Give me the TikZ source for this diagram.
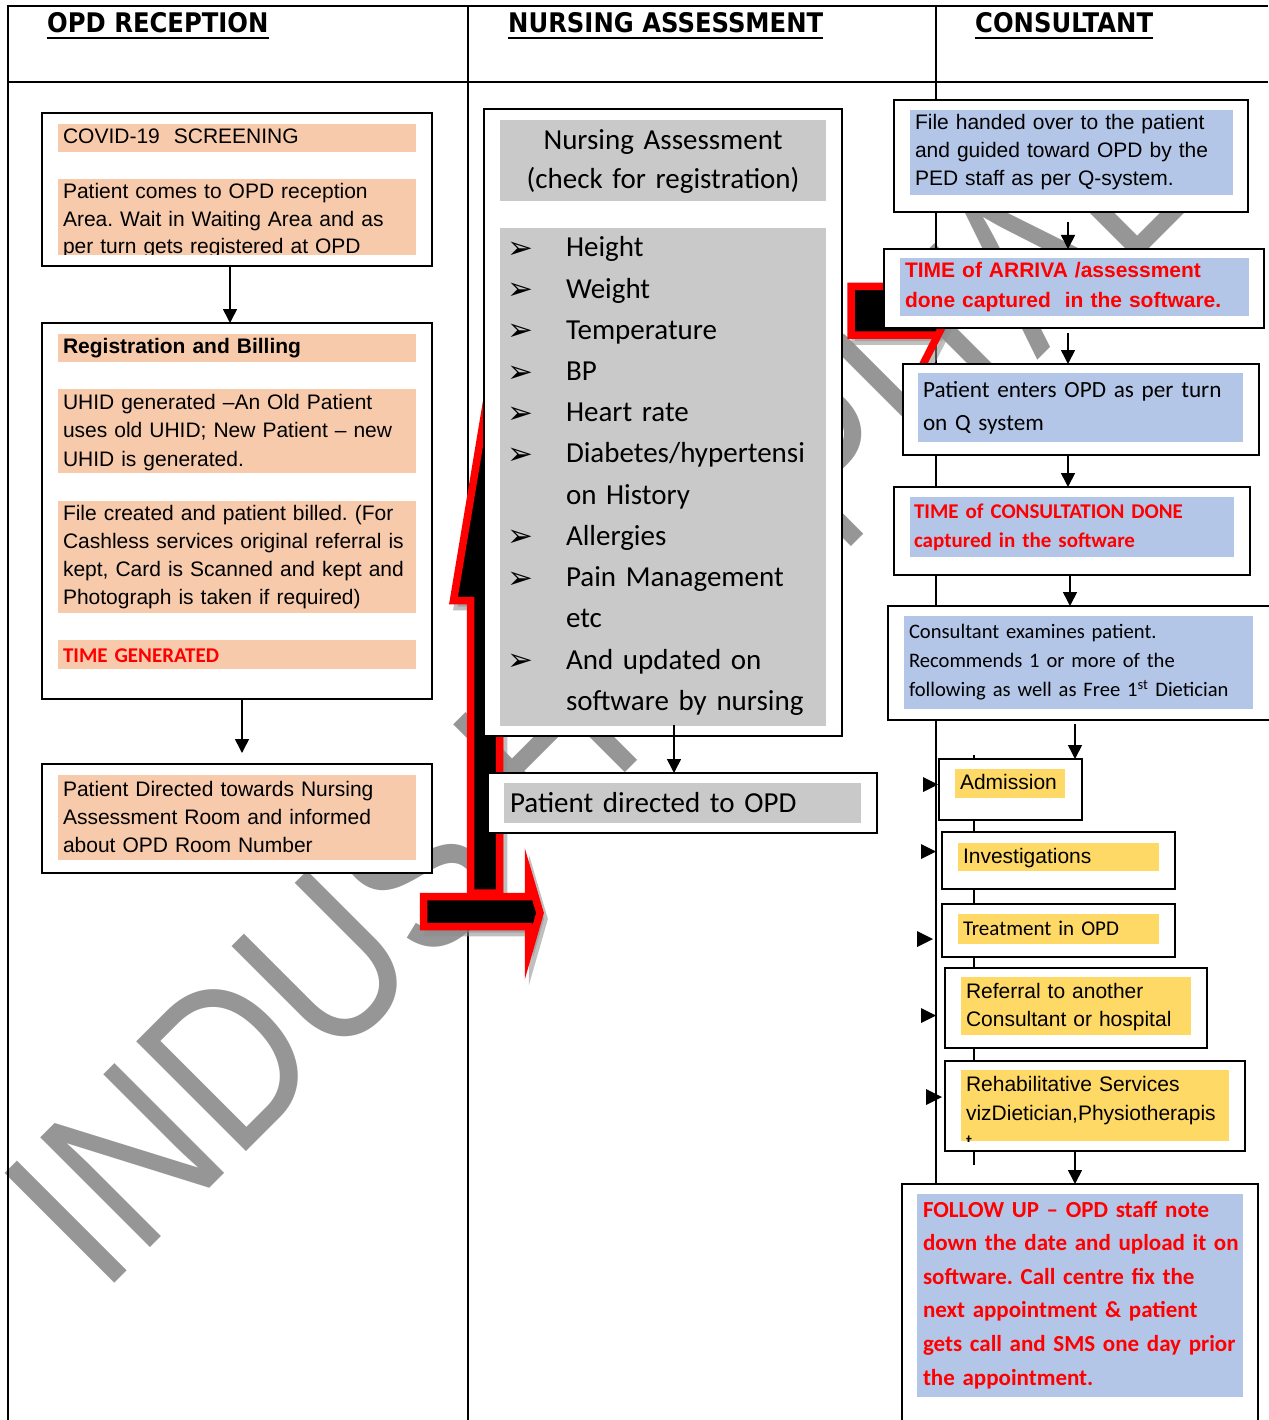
\documentclass[tikz,border=0pt]{standalone}
\usepackage{fontspec}
\setmainfont{Liberation Sans}
\newfontfamily\calfont{Carlito}
\newfontfamily\headfont[FakeStretch=0.9]{DejaVu Sans}
\newfontfamily\symfont{DejaVu Sans}
\usetikzlibrary{arrows.meta,fit}

\definecolor{peach}{HTML}{F7CAAC}
\definecolor{greyband}{HTML}{C9C9C9}
\definecolor{blueband}{HTML}{B4C6E7}
\definecolor{goldband}{HTML}{FFD966}
\definecolor{alertred}{HTML}{FF0000}
\definecolor{markgrey}{HTML}{969696}

% text block: name, x, first baseline, size, line skip, font switches, text
\newcommand\tx[7]{\node[anchor=north west,inner sep=0pt,outer sep=0pt,text width=350pt,align=left,font={#6\fontsize{#4}{#5}\selectfont\frenchspacing}] (#1) at (#2,{#3-#4}) {\rule{0pt}{#4pt}#7};}
\newcommand\bul{\makebox[59pt][l]{\raisebox{-1.5pt}{\symfont\fontsize{31}{31}\selectfont ➢}}}
\newcommand\cont{\hspace*{59pt}}

\tikzset{
  obox/.style={draw=black, line width=1.8pt, fill=white, inner sep=0pt, outer sep=0pt},
  band/.style={draw=none, fill=#1, inner sep=0pt, outer sep=0pt},
  grid/.style={line width=1.2pt, draw=black},
  flow/.style={line width=1.6pt, -{Triangle[length=14pt,width=14pt]}},
  bigarrow/.style={draw=alertred, line width=7.5pt, fill=black, line join=miter},
  arrowshade/.style={draw=black!45, fill=black!45, line width=7.5pt, opacity=0.55},
  headline/.style={font=\headfont\bfseries\fontsize{27}{30}\selectfont, anchor=base west, inner sep=0pt},
  pointer/.style={fill=black},
}

\begin{document}
\begin{tikzpicture}[x=1pt,y=-1pt]
\useasboundingbox (0,0) rectangle (1268,1420);
\fill[white] (0,0) rectangle (1268,1420);

% watermark
\node[rotate=45, anchor=base west, inner sep=0pt, text=markgrey,
      font=\fontsize{188}{188}\selectfont] (mark) at (102,1296) {\scalebox{1}[1.2]{INDUS HOSPITAL}};

% table rules
\draw[grid] (8,1420) -- (8,6) -- (1268,6);
\draw[grid] (8,82) -- (1268,82);
\draw[grid] (468,6) -- (468,1420);
\draw[grid] (936,6) -- (936,1420);

% column headings
\node[headline] (hrec) at (47,33) {OPD RECEPTION};
\node[headline] (hnur) at (508,33) {NURSING ASSESSMENT};
\node[headline] (hcon) at (975,33) {CONSULTANT};
\foreach \h in {hrec,hnur,hcon}
  \draw[line width=2.6pt] ([yshift=-5pt]\h.base west) -- ([yshift=-5pt]\h.base east);

% big bent red arrow (shadows first)
\path[arrowshade, shift={(4,6)}] (453.5,600.5) -- (499.5,324.5) -- (499.5,893) -- (470.5,893) -- (470.5,600.5) -- cycle;
\path[bigarrow] (453.5,600.5) -- (499.5,324.5) -- (499.5,893) -- (470.5,893) -- (470.5,600.5) -- cycle;
\path[arrowshade, shift={(4,6)}] (423.5,896.5) -- (528.5,896.5) -- (528.5,874) -- (540,913) -- (528.5,953) -- (528.5,926.5) -- (423.5,926.5) -- cycle;
\path[bigarrow] (423.5,896.5) -- (528.5,896.5) -- (528.5,874) -- (540,913) -- (528.5,953) -- (528.5,926.5) -- (423.5,926.5) -- cycle;
\path[arrowshade, shift={(4,6)}] (851,286.5) -- (965,286.5) -- (965,305) -- (945,321) -- (916,378) -- (938,335) -- (851,335) -- cycle;
\path[bigarrow] (851,286.5) -- (965,286.5) -- (965,305) -- (945,321) -- (916,378) -- (938,335) -- (851,335) -- cycle;

% ---------------- OPD reception ----------------
\node[obox, fit={(42,113) (432,266)}] (covid) {};
\node[band=peach, fit={(58,124) (416,152)}] (covidA) {};
\tx{covidtitle}{63}{144}{21}{28}{}{COVID-19\ \ SCREENING}
\node[band=peach, fit={(58,179) (416,255)}] (covidB) {};
\begin{scope}
  \clip (58,179) rectangle (416,255);
  \tx{covidtext}{63}{199}{21}{27.5}{}{Patient comes to OPD reception\\Area. Wait in Waiting Area and as\\per turn gets registered at OPD}
\end{scope}

\node[obox, fit={(42,323) (432,699)}] (reg) {};
\node[band=peach, fit={(58,334) (416,362)}] (regA) {};
\tx{regtitle}{63}{353}{21}{28}{\bfseries}{Registration and Billing}
\node[band=peach, fit={(58,389) (416,473)}] (regB) {};
\tx{uhid}{63}{409}{21}{28.5}{}{UHID generated –An Old Patient\\uses old UHID; New Patient – new\\UHID is generated.}
\node[band=peach, fit={(58,501) (416,613)}] (regC) {};
\tx{billing}{63}{520}{21}{28.3}{}{File created and patient billed. (For\\Cashless services original referral is\\kept, Card is Scanned and kept and\\Photograph is taken if required)}
\node[band=peach, fit={(58,640) (416,669)}] (regD) {};
\tx{timegen}{63}{662}{21}{28}{\calfont\bfseries\color{alertred}}{TIME GENERATED}

\node[obox, fit={(42,764) (432,873)}] (direct) {};
\node[band=peach, fit={(58,775) (416,860)}] (directA) {};
\tx{directtext}{63}{796}{21}{28}{}{Patient Directed towards Nursing\\Assessment Room and informed\\about OPD Room Number}

\draw[flow] ([xshift=-7pt]covid.south) -- ([xshift=-7pt]reg.north);
\draw[flow] ([xshift=5pt]reg.south) -- ([xshift=5pt,yshift=11pt]direct.north);

% ---------------- Nursing assessment ----------------
\node[obox, fit={(484,109) (842,736)}] (nurse) {};
\node[band=greyband, fit={(500,120) (826,201)}] (nurseA) {};
\node[anchor=north, inner sep=0pt, text width=326pt, align=center,
      font=\calfont\fontsize{29}{39}\selectfont] (nursehead) at (663,120) {\rule{0pt}{29pt}Nursing Assessment\\(check for registration)};
\node[band=greyband, fit={(500,228) (826,726)}] (nurseB) {};
\tx{checks}{507}{257}{29}{41.2}{\calfont}{\bul Height\\\bul Weight\\\bul Temperature\\\bul BP\\\bul Heart rate\\\bul Diabetes/hypertensi\\\cont on History\\\bul Allergies\\\bul Pain Management\\\cont etc\\\bul And updated on\\\cont software by nursing}

\node[obox, fit={(488,773) (877,833)}] (opd) {};
\node[band=greyband, fit={(504,783) (861,823)}] (opdA) {};
\tx{opdtext}{510}{812}{29}{34}{\calfont}{Patient directed to OPD}

\draw[flow] ([xshift=11pt,yshift=11pt]nurse.south) -- ([xshift=-8.5pt]opd.north);

% ---------------- Consultant ----------------
\coordinate (spinetop) at (974,755);
\coordinate (spinebot) at (974,1165);
\draw[line width=1.6pt] (spinetop) -- (spinebot);

\node[obox, fit={(894,100) (1248,212)}] (handover) {};
\node[band=blueband, fit={(910,110) (1233,195)}] (handoverA) {};
\tx{handtext}{915}{130}{21}{27.8}{}{File handed over to the patient\\and guided toward OPD by the\\PED staff as per Q-system.}

\node[obox, fit={(884,249) (1264,328)}] (arrival) {};
\node[band=blueband, fit={(900,258) (1249,316)}] (arrivalA) {};
\tx{arrivetext}{905}{278}{21}{29}{\bfseries\color{alertred}}{TIME of ARRIVA /assessment\\done captured\ \ in the software.}

\node[obox, fit={(903,364) (1259,455)}] (enters) {};
\node[band=blueband, fit={(918,373) (1243,442)}] (entersA) {};
\tx{entertext}{923}{397}{23.2}{33}{\calfont}{Patient enters OPD as per turn\\on Q system}

\node[obox, fit={(894,487) (1250,575)}] (consdone) {};
\node[band=blueband, fit={(910,497) (1234,557)}] (consdoneA) {};
\tx{donetext}{914}{518}{21}{29.5}{\calfont\bfseries\color{alertred}}{TIME of CONSULTATION DONE\\captured in the software}

\node[obox, fit={(888,606) (1290,720)}] (exam) {};
\node[band=blueband, fit={(904,616) (1253,709)}] (examA) {};
\tx{examtext}{909}{638}{20.6}{29.3}{\calfont}{Consultant examines patient.\\Recommends 1 or more of the\\following as well as Free 1\textsuperscript{st} Dietician}

\node[obox, fit={(939,759) (1082,820)}] (admission) {};
\node[band=goldband, fit={(955,769) (1065,798)}] (admissionA) {};
\tx{admtext}{960}{789}{21}{28}{}{Admission}

\node[obox, fit={(942,832) (1175,889)}] (invest) {};
\node[band=goldband, fit={(958,843) (1159,871)}] (investA) {};
\tx{invtext}{963}{863}{21}{28}{}{Investigations}

\node[obox, fit={(942,904) (1175,957)}] (treat) {};
\node[band=goldband, fit={(958,914) (1159,944)}] (treatA) {};
\tx{trttext}{963}{935}{21}{28}{\calfont}{Treatment in OPD}

\node[obox, fit={(945,968) (1207,1048)}] (referral) {};
\node[band=goldband, fit={(961,977) (1191,1035)}] (referralA) {};
\tx{reftext}{966}{998}{21}{28.5}{}{Referral to another\\Consultant or hospital}

\node[obox, fit={(945,1061) (1245,1151)}] (rehab) {};
\node[band=goldband, fit={(961,1070) (1229,1141)}] (rehabA) {};
\begin{scope}
  \clip (961,1070) rectangle (1229,1141);
  \tx{rehabtext}{966}{1091}{21}{29}{}{Rehabilitative Services\\vizDietician,Physiotherapis\\t}
\end{scope}

\node[obox, fit={(902,1184) (1258,1450)}] (followup) {};
\node[band=blueband, fit={(917,1194) (1243,1397)}] (followupA) {};
\tx{futext}{923}{1217}{23}{33.6}{\calfont\bfseries\color{alertred}}{FOLLOW UP – OPD staff note\\down the date and upload it on\\software. Call centre fix the\\next appointment \& patient\\gets call and SMS one day prior\\the appointment.}

% option pointers on the left of the consultant list
\fill[pointer] (923,777) -- (938,784.5) -- (923,792) -- cycle;
\fill[pointer] (921,844) -- (936,851.5) -- (921,859) -- cycle;
\fill[pointer] (917,931) -- (933,939) -- (917,947) -- cycle;
\fill[pointer] (921,1008) -- (936,1015.5) -- (921,1023) -- cycle;
\fill[pointer] (926,1089) -- (942,1097) -- (926,1105) -- cycle;

% consultant flow
\draw[flow] ([xshift=-3pt,yshift=-10pt]handover.south) -- ([xshift=-6pt]arrival.north);
\draw[flow] ([xshift=-6pt,yshift=-5pt]arrival.south) -- ([xshift=-13pt]enters.north);
\draw[flow] ([xshift=-13pt]enters.south) -- ([xshift=-4pt]consdone.north);
\draw[flow] ([xshift=-2pt]consdone.south) -- ([xshift=-19pt]exam.north);
\draw[flow] ([xshift=-14pt,yshift=-4pt]exam.south) -- ([xshift=64.5pt]admission.north);
\draw[flow] ([xshift=-20pt]rehab.south) -- ([xshift=-5pt]followup.north);
\end{tikzpicture}
\end{document}
